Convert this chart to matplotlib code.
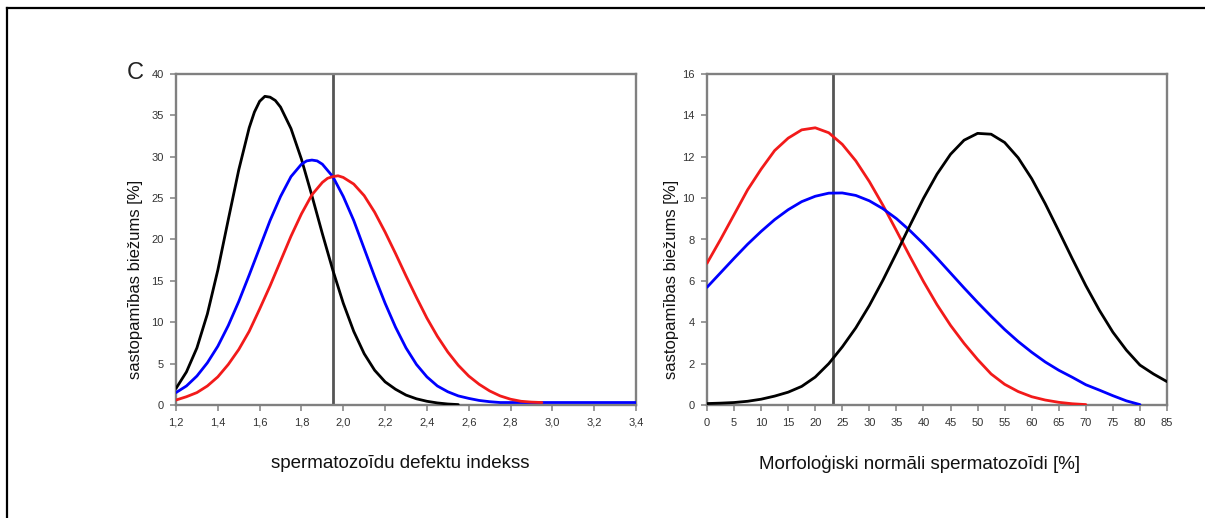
import numpy as np
import matplotlib
matplotlib.use("Agg")
import matplotlib.pyplot as plt
from matplotlib.lines import Line2D

plt.rcParams['font.family'] = ['Liberation Sans', 'DejaVu Sans']

# ---------------- Left panel data (spermatozoīdu defektu indekss) ----------------
left_black_x = [1.20, 1.25, 1.30, 1.35, 1.40, 1.45, 1.50, 1.55, 1.575, 1.60,
                1.625, 1.65, 1.675, 1.70, 1.75, 1.80, 1.85, 1.90, 1.95, 2.00,
                2.05, 2.10, 2.15, 2.20, 2.25, 2.30, 2.35, 2.40, 2.45, 2.50, 2.55]
left_black_y = [2.0, 4.0, 6.9, 11.0, 16.3, 22.4, 28.4, 33.5, 35.4, 36.7,
                37.3, 37.2, 36.8, 36.0, 33.4, 29.7, 25.3, 20.7, 16.3, 12.3,
                8.9, 6.2, 4.2, 2.8, 1.9, 1.2, 0.75, 0.45, 0.25, 0.12, 0.05]

left_blue_x = [1.20, 1.25, 1.30, 1.35, 1.40, 1.45, 1.50, 1.55, 1.60, 1.65,
               1.70, 1.75, 1.80, 1.825, 1.85, 1.875, 1.90, 1.95, 2.00, 2.05,
               2.10, 2.15, 2.20, 2.25, 2.30, 2.35, 2.40, 2.45, 2.50, 2.55,
               2.60, 2.65, 2.70, 2.75, 3.40]
left_blue_y = [1.5, 2.3, 3.5, 5.1, 7.1, 9.6, 12.5, 15.7, 19.0, 22.3,
               25.2, 27.6, 29.1, 29.5, 29.6, 29.5, 29.1, 27.6, 25.2, 22.3,
               18.9, 15.5, 12.3, 9.4, 6.9, 4.9, 3.4, 2.3, 1.6, 1.1,
               0.8, 0.55, 0.4, 0.3, 0.3]

left_red_x = [1.20, 1.25, 1.30, 1.35, 1.40, 1.45, 1.50, 1.55, 1.60, 1.65,
              1.70, 1.75, 1.80, 1.85, 1.90, 1.925, 1.95, 1.975, 2.00, 2.05,
              2.10, 2.15, 2.20, 2.25, 2.30, 2.35, 2.40, 2.45, 2.50, 2.55,
              2.60, 2.65, 2.70, 2.75, 2.80, 2.85, 2.90, 2.95]
left_red_y = [0.6, 1.0, 1.5, 2.3, 3.4, 4.9, 6.7, 8.9, 11.6, 14.4,
              17.4, 20.4, 23.1, 25.4, 26.9, 27.4, 27.6, 27.7, 27.5, 26.7,
              25.3, 23.3, 20.9, 18.3, 15.6, 13.0, 10.5, 8.3, 6.4, 4.8,
              3.5, 2.5, 1.7, 1.1, 0.7, 0.45, 0.35, 0.3]

left_vline = 1.95
left_xticks = [1.2, 1.4, 1.6, 1.8, 2.0, 2.2, 2.4, 2.6, 2.8, 3.0, 3.2, 3.4]
left_xticklabels = ["1,2", "1,4", "1,6", "1,8", "2,0", "2,2", "2,4", "2,6", "2,8", "3,0", "3,2", "3,4"]
left_yticks = [0, 5, 10, 15, 20, 25, 30, 35, 40]

# ---------------- Right panel data (Morfoloģiski normāli spermatozoīdi) ----------------
right_red_x = [0, 2.5, 5, 7.5, 10, 12.5, 15, 17.5, 20, 22.5,
               25, 27.5, 30, 32.5, 35, 37.5, 40, 42.5, 45, 47.5,
               50, 52.5, 55, 57.5, 60, 62.5, 65, 67.5, 70]
right_red_y = [6.85, 8.0, 9.2, 10.4, 11.4, 12.3, 12.9, 13.3, 13.4, 13.16,
               12.6, 11.8, 10.8, 9.66, 8.43, 7.18, 5.97, 4.85, 3.85, 2.98,
               2.2, 1.5, 1.0, 0.65, 0.4, 0.24, 0.13, 0.06, 0.02]

right_blue_x = [0, 2.5, 5, 7.5, 10, 12.5, 15, 17.5, 20, 22.5,
                25, 27.5, 30, 32.5, 35, 37.5, 40, 42.5, 45, 47.5,
                50, 52.5, 55, 57.5, 60, 62.5, 65, 67.5, 70, 72.5,
                75, 77.5, 80]
right_blue_y = [5.69, 6.39, 7.09, 7.77, 8.39, 8.96, 9.44, 9.83, 10.09, 10.24,
                10.25, 10.13, 9.87, 9.49, 9.01, 8.43, 7.79, 7.10, 6.38, 5.66,
                4.96, 4.29, 3.65, 3.07, 2.55, 2.08, 1.68, 1.34, 0.98, 0.72,
                0.45, 0.2, 0.02]

right_black_x = [0, 2.5, 5, 7.5, 10, 12.5, 15, 17.5, 20, 22.5,
                 25, 27.5, 30, 32.5, 35, 37.5, 40, 42.5, 45, 47.5,
                 50, 52.5, 55, 57.5, 60, 62.5, 65, 67.5, 70, 72.5,
                 75, 77.5, 80, 82.5, 85]
right_black_y = [0.07, 0.09, 0.12, 0.18, 0.28, 0.43, 0.62, 0.9, 1.35, 2.0,
                 2.81, 3.73, 4.81, 6.03, 7.34, 8.68, 9.99, 11.16, 12.12, 12.8,
                 13.13, 13.09, 12.69, 11.95, 10.94, 9.73, 8.41, 7.07, 5.77, 4.58,
                 3.52, 2.65, 1.93, 1.5, 1.13]

right_vline = 23.2
right_xticks = list(range(0, 86, 5))
right_yticks = [0, 2, 4, 6, 8, 10, 12, 14, 16]

ylabel_text = "sastopamības biežums [%]"
left_xlabel = "spermatozoīdu defektu indekss"
right_xlabel = "Morfoloģiski normāli spermatozoīdi [%]"
panel_letter = "C"

# ---------------- Figure ----------------
W, H = 1205, 518
fig = plt.figure(figsize=(W / 100, H / 100), dpi=100)
fig.patch.set_facecolor("white")

spine_col = "#808080"
tick_lab_col = "#333333"
vline_col = "#555555"

def px_axes(l, r, t, b):
    return [l / W, 1 - b / H, (r - l) / W, (b - t) / H]

axL = fig.add_axes(px_axes(176, 636, 74, 405))
axR = fig.add_axes(px_axes(707, 1167, 74, 405))

def style(ax):
    for s in ax.spines.values():
        s.set_color(spine_col)
        s.set_linewidth(1.7)
    ax.tick_params(direction="out", length=4, width=1.1, color=spine_col,
                   labelsize=8, labelcolor=tick_lab_col, pad=5)

lw = 2.0
kw = dict(lw=lw, solid_joinstyle="round", solid_capstyle="round")
axL.plot(left_black_x, left_black_y, color="black", zorder=3, **kw)
axL.plot(left_blue_x, left_blue_y, color="#0000ff", zorder=3, **kw)
axL.plot(left_red_x, left_red_y, color="#f21a1a", zorder=4, **kw)
axL.axvline(left_vline, color=vline_col, lw=2.0, zorder=2)
axL.set_xlim(1.2, 3.4)
axL.set_ylim(0, 40)
axL.set_xticks(left_xticks)
axL.set_xticklabels(left_xticklabels)
axL.set_yticks(left_yticks)
style(axL)
axL.set_ylabel(ylabel_text, fontsize=12, color="#111111")
axL.yaxis.set_label_coords(-0.072, 0.38)
axL.set_xlabel(left_xlabel, fontsize=13.5, color="#111111")
axL.xaxis.set_label_coords(0.487, -0.15)

axR.plot(right_red_x, right_red_y, color="#f21a1a", zorder=3, **kw)
axR.plot(right_blue_x, right_blue_y, color="#0000ff", zorder=3, **kw)
axR.plot(right_black_x, right_black_y, color="black", zorder=4, **kw)
axR.axvline(right_vline, color=vline_col, lw=2.0, zorder=2)
axR.set_xlim(0, 85)
axR.set_ylim(0, 16)
axR.set_xticks(right_xticks)
axR.set_yticks(right_yticks)
style(axR)
axR.set_ylabel(ylabel_text, fontsize=12, color="#111111")
axR.yaxis.set_label_coords(-0.061, 0.38)
axR.set_xlabel(right_xlabel, fontsize=13.5, color="#111111")
axR.xaxis.set_label_coords(0.462, -0.15)

fig.text(127 / W, 1 - 79 / H, panel_letter, fontsize=17, color="#222222",
         ha="left", va="baseline")

# document frame
fig.add_artist(Line2D([7 / W, 1.0], [1 - 7.5 / H, 1 - 7.5 / H], color="black", lw=1.6,
                      transform=fig.transFigure))
fig.add_artist(Line2D([7.5 / W, 7.5 / W], [0, 1 - 7.5 / H], color="black", lw=1.6,
                      transform=fig.transFigure))

fig.savefig("out.png", dpi=100, facecolor="white")
